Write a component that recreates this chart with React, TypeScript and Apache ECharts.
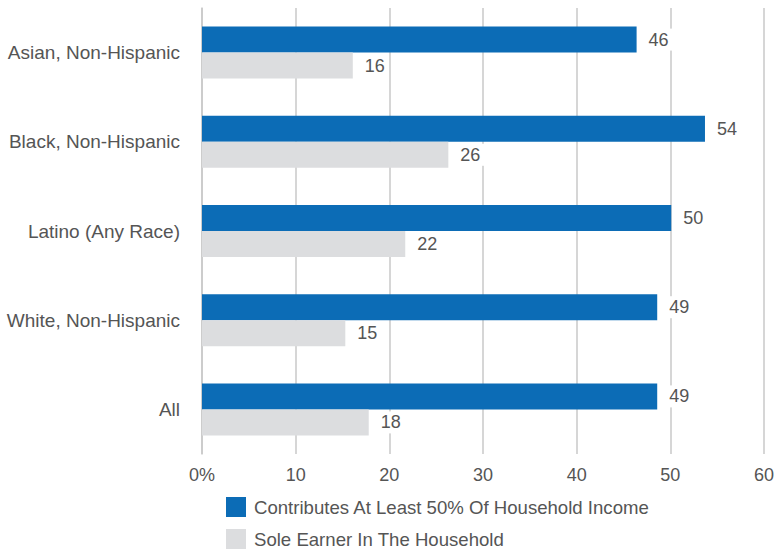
import React, { useEffect, useRef } from "react";
import * as echarts from "echarts";

const categories = [
  "Asian, Non-Hispanic",
  "Black, Non-Hispanic",
  "Latino (Any Race)",
  "White, Non-Hispanic",
  "All",
];
const contributesValues = [46.4, 53.7, 50.1, 48.6, 48.6];
const soleEarnerValues = [16.1, 26.3, 21.7, 15.3, 17.8];
const seriesNames = ["Contributes At Least 50% Of Household Income", "Sole Earner In The Household"];
const xTicks = [0, 10, 20, 30, 40, 50, 60];

const FONT = "'Liberation Sans', Arial, Helvetica, sans-serif";

export default function App() {
  const ref = useRef<HTMLDivElement>(null);
  useEffect(() => {
    if (!ref.current) return;
    const chart = echarts.init(ref.current, undefined, { renderer: "svg" });
    const label = {
      show: true,
      position: "right",
      distance: 8,
      color: "#555",
      fontSize: 18,
      fontFamily: FONT,
      backgroundColor: "#fff",
      padding: [2, 4],
      formatter: (p: any) => String(Math.round(p.value)),
    };
    chart.setOption({
      animation: false,
      textStyle: { fontFamily: FONT },
      grid: { left: 202, right: 10, top: 8, height: 446, containLabel: false },
      xAxis: {
        type: "value",
        min: xTicks[0],
        max: xTicks[xTicks.length - 1],
        interval: 10,
        axisLine: { show: false },
        axisTick: { show: false },
        splitLine: { lineStyle: { color: "#c8c8c8", width: 1.5 } },
        axisLabel: {
          color: "#555",
          fontSize: 18,
          fontFamily: FONT,
          margin: 12,
          formatter: (v: number) => (v === 0 ? "0%" : String(v)),
        },
      },
      yAxis: {
        type: "category",
        inverse: true,
        data: categories,
        axisLine: { show: true, lineStyle: { color: "#c8c8c8", width: 1.5 } },
        axisTick: { show: false },
        axisLabel: { color: "#555", fontSize: 19, fontFamily: FONT, margin: 22 },
      },
      legend: {
        orient: "vertical",
        left: 226,
        top: 497,
        padding: 0,
        itemWidth: 20,
        itemHeight: 20,
        itemGap: 12,
        icon: "rect",
        textStyle: { color: "#555", fontSize: 18.6, fontFamily: FONT, padding: [0, 0, 0, 3] },
        data: seriesNames,
      },
      series: [
        {
          name: seriesNames[0],
          type: "bar",
          data: contributesValues,
          barWidth: 26,
          barGap: "0%",
          itemStyle: { color: "#0c6cb6" },
          label,
        },
        {
          name: seriesNames[1],
          type: "bar",
          data: soleEarnerValues,
          barWidth: 26,
          barGap: "0%",
          itemStyle: { color: "#dcdddf" },
          label,
        },
      ],
    });
    return () => chart.dispose();
  }, []);
  return (
    <div
      ref={ref}
      style={{ position: "absolute", left: 0, top: 0, width: 777, height: 552, background: "#fff" }}
    />
  );
}
